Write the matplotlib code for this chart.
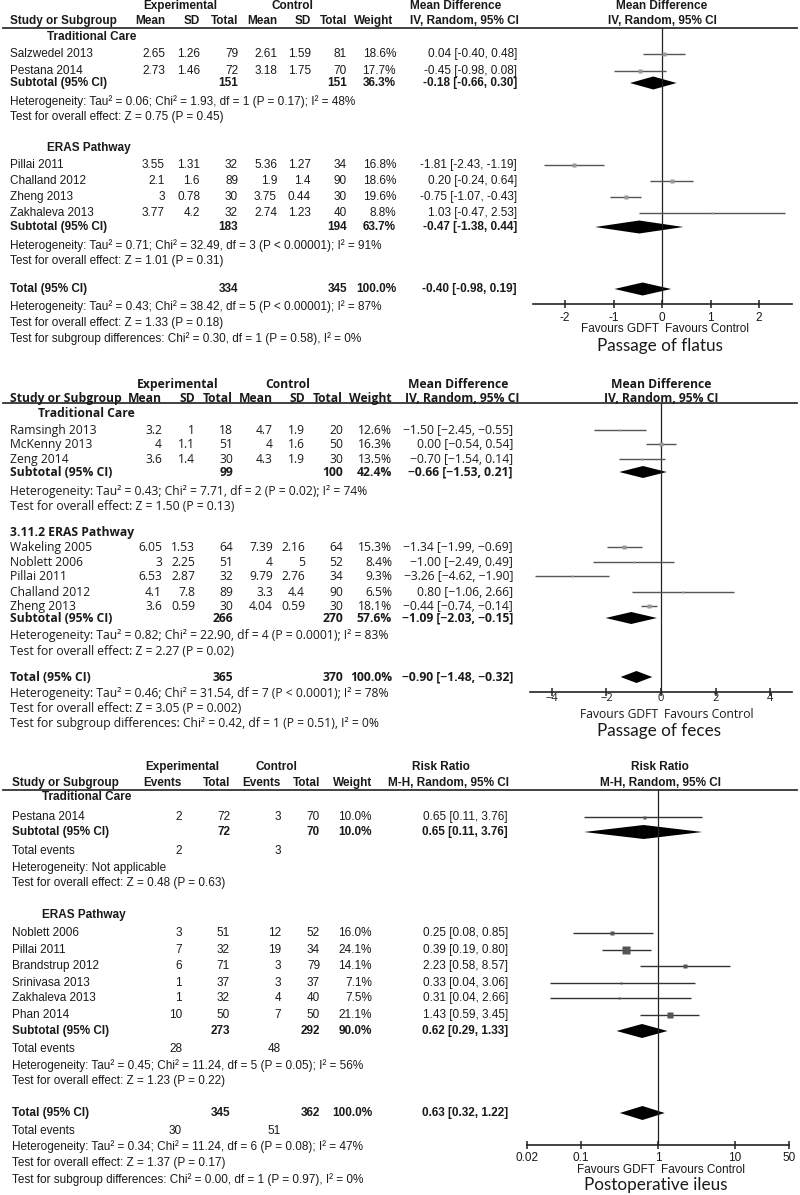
import matplotlib
matplotlib.use("Agg")
import matplotlib.pyplot as plt
from matplotlib.ticker import FixedLocator, FixedFormatter, NullLocator

# ---------------- DATA ----------------
# Panel 1: Passage of flatus (mean difference)
fl_tc_study = ["Salzwedel 2013", "Pestana 2014"]
fl_tc_e_mean = [2.65, 2.73]
fl_tc_e_sd = [1.26, 1.46]
fl_tc_e_n = [79, 72]
fl_tc_c_mean = [2.61, 3.18]
fl_tc_c_sd = [1.59, 1.75]
fl_tc_c_n = [81, 70]
fl_tc_w = [18.6, 17.7]
fl_tc_md = [0.04, -0.45]
fl_tc_lo = [-0.40, -0.98]
fl_tc_hi = [0.48, 0.08]
fl_tc_sub = dict(en=151, cn=151, w=36.3, md=-0.18, lo=-0.66, hi=0.30)
fl_tc_het = "Heterogeneity: Tau² = 0.06; Chi² = 1.93, df = 1 (P = 0.17); I² = 48%"
fl_tc_test = "Test for overall effect: Z = 0.75 (P = 0.45)"

fl_er_study = ["Pillai 2011", "Challand 2012", "Zheng 2013", "Zakhaleva 2013"]
fl_er_e_mean = [3.55, 2.1, 3, 3.77]
fl_er_e_sd = [1.31, 1.6, 0.78, 4.2]
fl_er_e_n = [32, 89, 30, 32]
fl_er_c_mean = [5.36, 1.9, 3.75, 2.74]
fl_er_c_sd = [1.27, 1.4, 0.44, 1.23]
fl_er_c_n = [34, 90, 30, 40]
fl_er_w = [16.8, 18.6, 19.6, 8.8]
fl_er_md = [-1.81, 0.20, -0.75, 1.03]
fl_er_lo = [-2.43, -0.24, -1.07, -0.47]
fl_er_hi = [-1.19, 0.64, -0.43, 2.53]
fl_er_sub = dict(en=183, cn=194, w=63.7, md=-0.47, lo=-1.38, hi=0.44)
fl_er_het = "Heterogeneity: Tau² = 0.71; Chi² = 32.49, df = 3 (P < 0.00001); I² = 91%"
fl_er_test = "Test for overall effect: Z = 1.01 (P = 0.31)"

fl_tot = dict(en=334, cn=345, w=100.0, md=-0.40, lo=-0.98, hi=0.19)
fl_tot_notes = ["Heterogeneity: Tau² = 0.43; Chi² = 38.42, df = 5 (P < 0.00001); I² = 87%",
                "Test for overall effect: Z = 1.33 (P = 0.18)",
                "Test for subgroup differences: Chi² = 0.30, df = 1 (P = 0.58), I² = 0%"]
fl_ticks = [-2, -1, 0, 1, 2]

# Panel 2: Passage of feces (mean difference)
fe_tc_study = ["Ramsingh 2013", "McKenny 2013", "Zeng 2014"]
fe_tc_e_mean = [3.2, 4, 3.6]
fe_tc_e_sd = [1, 1.1, 1.4]
fe_tc_e_n = [18, 51, 30]
fe_tc_c_mean = [4.7, 4, 4.3]
fe_tc_c_sd = [1.9, 1.6, 1.9]
fe_tc_c_n = [20, 50, 30]
fe_tc_w = [12.6, 16.3, 13.5]
fe_tc_md = [-1.50, 0.00, -0.70]
fe_tc_lo = [-2.45, -0.54, -1.54]
fe_tc_hi = [-0.55, 0.54, 0.14]
fe_tc_sub = dict(en=99, cn=100, w=42.4, md=-0.66, lo=-1.53, hi=0.21)
fe_tc_het = "Heterogeneity: Tau² = 0.43; Chi² = 7.71, df = 2 (P = 0.02); I² = 74%"
fe_tc_test = "Test for overall effect: Z = 1.50 (P = 0.13)"

fe_er_study = ["Wakeling 2005", "Noblett 2006", "Pillai 2011", "Challand 2012", "Zheng 2013"]
fe_er_e_mean = [6.05, 3, 6.53, 4.1, 3.6]
fe_er_e_sd = [1.53, 2.25, 2.87, 7.8, 0.59]
fe_er_e_n = [64, 51, 32, 89, 30]
fe_er_c_mean = [7.39, 4, 9.79, 3.3, 4.04]
fe_er_c_sd = [2.16, 5, 2.76, 4.4, 0.59]
fe_er_c_n = [64, 52, 34, 90, 30]
fe_er_w = [15.3, 8.4, 9.3, 6.5, 18.1]
fe_er_md = [-1.34, -1.00, -3.26, 0.80, -0.44]
fe_er_lo = [-1.99, -2.49, -4.62, -1.06, -0.74]
fe_er_hi = [-0.69, 0.49, -1.90, 2.66, -0.14]
fe_er_sub = dict(en=266, cn=270, w=57.6, md=-1.09, lo=-2.03, hi=-0.15)
fe_er_het = "Heterogeneity: Tau² = 0.82; Chi² = 22.90, df = 4 (P = 0.0001); I² = 83%"
fe_er_test = "Test for overall effect: Z = 2.27 (P = 0.02)"

fe_tot = dict(en=365, cn=370, w=100.0, md=-0.90, lo=-1.48, hi=-0.32)
fe_tot_notes = ["Heterogeneity: Tau² = 0.46; Chi² = 31.54, df = 7 (P < 0.0001); I² = 78%",
                "Test for overall effect: Z = 3.05 (P = 0.002)",
                "Test for subgroup differences: Chi² = 0.42, df = 1 (P = 0.51), I² = 0%"]
fe_ticks = [-4, -2, 0, 2, 4]

# Panel 3: Postoperative ileus (risk ratio)
il_tc_study = ["Pestana 2014"]
il_tc_e_ev = [2]
il_tc_e_n = [72]
il_tc_c_ev = [3]
il_tc_c_n = [70]
il_tc_w = [10.0]
il_tc_rr = [0.65]
il_tc_lo = [0.11]
il_tc_hi = [3.76]
il_tc_sub = dict(en=72, cn=70, w=10.0, md=0.65, lo=0.11, hi=3.76, eev=2, cev=3)
il_tc_het = "Heterogeneity: Not applicable"
il_tc_test = "Test for overall effect: Z = 0.48 (P = 0.63)"

il_er_study = ["Noblett 2006", "Pillai 2011", "Brandstrup 2012", "Srinivasa 2013",
               "Zakhaleva 2013", "Phan 2014"]
il_er_e_ev = [3, 7, 6, 1, 1, 10]
il_er_e_n = [51, 32, 71, 37, 32, 50]
il_er_c_ev = [12, 19, 3, 3, 4, 7]
il_er_c_n = [52, 34, 79, 37, 40, 50]
il_er_w = [16.0, 24.1, 14.1, 7.1, 7.5, 21.1]
il_er_rr = [0.25, 0.39, 2.23, 0.33, 0.31, 1.43]
il_er_lo = [0.08, 0.19, 0.58, 0.04, 0.04, 0.59]
il_er_hi = [0.85, 0.80, 8.57, 3.06, 2.66, 3.45]
il_er_sub = dict(en=273, cn=292, w=90.0, md=0.62, lo=0.29, hi=1.33, eev=28, cev=48)
il_er_het = "Heterogeneity: Tau² = 0.45; Chi² = 11.24, df = 5 (P = 0.05); I² = 56%"
il_er_test = "Test for overall effect: Z = 1.23 (P = 0.22)"

il_tot = dict(en=345, cn=362, w=100.0, md=0.63, lo=0.32, hi=1.22, eev=30, cev=51)
il_tot_notes = ["Heterogeneity: Tau² = 0.34; Chi² = 11.24, df = 6 (P = 0.08); I² = 47%",
                "Test for overall effect: Z = 1.37 (P = 0.17)",
                "Test for subgroup differences: Chi² = 0.00, df = 1 (P = 0.97), I² = 0%"]
il_ticks = [0.02, 0.1, 1, 10, 50]
il_ticklabels = ["0.02", "0.1", "1", "10", "50"]

# ---------------- FIGURE ----------------
W, H = 800, 1195
fig = plt.figure(figsize=(W / 100, H / 100), dpi=100)
base = fig.add_axes([0, 0, 1, 1])
base.set_xlim(0, W)
base.set_ylim(H, 0)
base.axis('off')

ARIAL = ['Liberation Sans', 'DejaVu Sans']
LUCIDA = ['Open Sans', 'DejaVu Sans']
TITLEF = ['Lato', 'DejaVu Sans']
TXT = '#1a1a1a'


def T(x, y, s, ha='left', bold=False, fs=8, fam=ARIAL, color=TXT):
    base.text(x, y, s, ha=ha, va='center', fontsize=fs,
              fontweight='bold' if bold else 'normal', family=fam, color=color)


def fmt_g(v):
    return f"{v:g}"


def fmt_ci(md, lo, hi, minus='-'):
    s = f"{md:.2f} [{lo:.2f}, {hi:.2f}]"
    return s.replace('-', minus)


def forest_axes(x0, x1, ytop, ybot, xlim, log=False):
    ax = fig.add_axes([x0 / W, 1 - ybot / H, (x1 - x0) / W, (ybot - ytop) / H])
    if log:
        ax.set_xscale('log')
    ax.set_xlim(*xlim)
    ax.set_ylim(ybot, ytop)
    ax.patch.set_alpha(0)
    for s in ['top', 'left', 'right']:
        ax.spines[s].set_visible(False)
    ax.spines['bottom'].set_linewidth(1.2)
    ax.spines['bottom'].set_color('#222222')
    ax.yaxis.set_major_locator(NullLocator())
    ax.xaxis.set_minor_locator(NullLocator())
    return ax


def draw_panel(cfg):
    c = cfg['cols']
    fam, fs = cfg['fam'], cfg['fs']
    mn = cfg['minus']
    y = cfg['y']
    # headers
    T(c['exp_c'], y['h1'], "Experimental", ha='center', bold=True, fs=fs, fam=fam)
    T(c['ctl_c'], y['h1'], "Control", ha='center', bold=True, fs=fs, fam=fam)
    (nx, nha), (mx, mha) = cfg['eff_hdr_pos']
    T(nx, y['h1'], cfg['eff_name'], ha=nha, bold=True, fs=fs, fam=fam)
    T(c['fp_c'], y['h1'], cfg['eff_name'], ha='center', bold=True, fs=fs, fam=fam)
    T(c['name'], y['h2'], "Study or Subgroup", bold=True, fs=fs, fam=fam)
    for key, lab in cfg['hdr_cols']:
        T(c[key], y['h2'], lab, ha='right', bold=True, fs=fs, fam=fam)
    T(c['w_h'], y['h2'], "Weight", ha='right', bold=True, fs=fs, fam=fam)
    T(mx, y['h2'], cfg['eff_method'], ha=mha, bold=True, fs=fs, fam=fam)
    T(c['fp_c'], y['h2'], cfg['eff_method'], ha='center', bold=True, fs=fs, fam=fam)
    base.plot([3, 797], [y['line'], y['line']], color='#333333', lw=1.3)

    ax = forest_axes(c['ax0'], c['ax1'], y['line'], y['axis'], cfg['xlim'], cfg['log'])
    ax.axvline(cfg['null'], color='#222222', lw=0.9)

    for g in cfg['groups']:
        T(g['lab_x'], g['lab_y'], g['label'], bold=True, fs=fs, fam=fam)
        for i, ry in enumerate(g['rows']):
            T(c['name'], ry, g['study'][i], fs=fs, fam=fam)
            for key, arr in g['cols']:
                T(c[key], ry, fmt_g(arr[i]), ha='right', fs=fs, fam=fam)
            T(c['w'], ry, f"{g['w'][i]:.1f}%", ha='right', fs=fs, fam=fam)
            T(c['ci'], ry, fmt_ci(g['md'][i], g['lo'][i], g['hi'][i], mn), ha='right', fs=fs, fam=fam)
            ax.plot([g['lo'][i], g['hi'][i]], [ry, ry], color=cfg['line_col'], lw=1.0,
                    solid_capstyle='butt')
            side = max(2.5, g['w'][i] * cfg['sq_scale'])
            ax.plot([g['md'][i]], [ry], marker='s', ms=side * 0.72, color=cfg['sq_col'],
                    mec='none', ls='none')
        s = g['sub']
        sy = g['sub_y']
        T(c['name'], sy, "Subtotal (95% CI)", bold=True, fs=fs, fam=fam)
        T(c['ne'], sy, str(s['en']), ha='right', bold=True, fs=fs, fam=fam)
        T(c['nc'], sy, str(s['cn']), ha='right', bold=True, fs=fs, fam=fam)
        T(c['w'], sy, f"{s['w']:.1f}%", ha='right', bold=True, fs=fs, fam=fam)
        T(c['ci'], sy, fmt_ci(s['md'], s['lo'], s['hi'], mn), ha='right', bold=True, fs=fs, fam=fam)
        dh = cfg['dia_h']
        ax.fill([s['lo'], s['md'], s['hi'], s['md']], [sy, sy - dh, sy, sy + dh],
                color='black', lw=0)
        if 'ev_y' in g:
            T(c['name'], g['ev_y'], "Total events", fs=fs, fam=fam)
            T(c['ee'], g['ev_y'], str(s['eev']), ha='right', fs=fs, fam=fam)
            T(c['ce'], g['ev_y'], str(s['cev']), ha='right', fs=fs, fam=fam)
        T(c['name'], g['het_y'], g['het'], fs=fs, fam=fam)
        T(c['name'], g['test_y'], g['test'], fs=fs, fam=fam)

    tt = cfg['tot']
    ty = y['tot']
    T(c['name'], ty, "Total (95% CI)", bold=True, fs=fs, fam=fam)
    T(c['ne'], ty, str(tt['en']), ha='right', bold=True, fs=fs, fam=fam)
    T(c['nc'], ty, str(tt['cn']), ha='right', bold=True, fs=fs, fam=fam)
    T(c['w'], ty, f"{tt['w']:.1f}%", ha='right', bold=True, fs=fs, fam=fam)
    T(c['ci'], ty, fmt_ci(tt['md'], tt['lo'], tt['hi'], mn), ha='right', bold=True, fs=fs, fam=fam)
    dh = cfg['dia_h']
    ax.fill([tt['lo'], tt['md'], tt['hi'], tt['md']], [ty, ty - dh, ty, ty + dh],
            color='black', lw=0)
    if 'tot_ev' in y:
        T(c['name'], y['tot_ev'], "Total events", fs=fs, fam=fam)
        T(c['ee'], y['tot_ev'], str(tt['eev']), ha='right', fs=fs, fam=fam)
        T(c['ce'], y['tot_ev'], str(tt['cev']), ha='right', fs=fs, fam=fam)
    for note, ny in zip(cfg['tot_notes'], y['notes']):
        T(c['name'], ny, note, fs=fs, fam=fam)

    ax.xaxis.set_major_locator(FixedLocator(cfg['ticks']))
    ax.xaxis.set_major_formatter(FixedFormatter(cfg['ticklabels']))
    ax.tick_params(axis='x', direction='inout', length=6, width=1.1, color='#222222',
                   labelsize=cfg['tick_fs'], pad=cfg['tick_pad'], labelcolor=TXT)
    for lab in ax.get_xticklabels():
        lab.set_family(fam)
    zx = c['zero_px']
    T(zx - 3, y['fav'], "Favours GDFT", ha='right', fs=fs, fam=fam)
    T(zx + 3, y['fav'], "Favours Control", ha='left', fs=fs, fam=fam)
    T(zx - 2, y['title'], cfg['title'], ha='center', fs=cfg['title_fs'], fam=TITLEF)


# ---- panel 1 ----
cfg1 = dict(
    fam=ARIAL, fs=8.5, minus='-', log=False, null=0, xlim=(-2.66, 2.68),
    eff_name="Mean Difference", eff_method="IV, Random, 95% CI",
    eff_hdr_pos=[(410, 'left'), (410, 'left')],
    cols=dict(name=10, me=165, sde=200, ne=238, mc=277, sdc=311, nc=347, w=396, w_h=393,
              ci=517, exp_c=180, ctl_c=292, fp_c=662, ax0=533, ax1=792, zero_px=662),
    hdr_cols=[('me', 'Mean'), ('sde', 'SD'), ('ne', 'Total'), ('mc', 'Mean'), ('sdc', 'SD'), ('nc', 'Total')],
    y=dict(h1=6, h2=21, line=28, axis=304, tot=289, notes=[307, 323, 339], fav=329, title=346),
    groups=[
        dict(label="Traditional Care", lab_x=47, lab_y=37, rows=[54, 71], sub_y=83, het_y=102, test_y=117,
             study=fl_tc_study, w=fl_tc_w, md=fl_tc_md, lo=fl_tc_lo, hi=fl_tc_hi, sub=fl_tc_sub,
             het=fl_tc_het, test=fl_tc_test,
             cols=[('me', fl_tc_e_mean), ('sde', fl_tc_e_sd), ('ne', fl_tc_e_n),
                   ('mc', fl_tc_c_mean), ('sdc', fl_tc_c_sd), ('nc', fl_tc_c_n)]),
        dict(label="ERAS Pathway", lab_x=47, lab_y=148, rows=[165, 181, 197, 213], sub_y=227, het_y=246,
             test_y=261, study=fl_er_study, w=fl_er_w, md=fl_er_md, lo=fl_er_lo, hi=fl_er_hi, sub=fl_er_sub,
             het=fl_er_het, test=fl_er_test,
             cols=[('me', fl_er_e_mean), ('sde', fl_er_e_sd), ('ne', fl_er_e_n),
                   ('mc', fl_er_c_mean), ('sdc', fl_er_c_sd), ('nc', fl_er_c_n)]),
    ],
    tot=fl_tot, tot_notes=fl_tot_notes, ticks=fl_ticks, ticklabels=[str(t) for t in fl_ticks],
    tick_fs=8.5, tick_pad=2.5, title="Passage of flatus", title_fs=12.3,
    line_col='#555555', sq_col='#999999', sq_scale=0.22, dia_h=6.5,
)
draw_panel(cfg1)

# ---- panel 2 ----
cfg2 = dict(
    fam=LUCIDA, fs=8.7, minus='\u2212', log=False, null=0, xlim=(-4.8, 4.8),
    eff_name="Mean Difference", eff_method="IV, Random, 95% CI",
    eff_hdr_pos=[(408, 'left'), (405, 'left')],
    cols=dict(name=10, me=162, sde=195, ne=233, mc=273, sdc=305, nc=343, w=392, w_h=392,
              ci=513, exp_c=178, ctl_c=288, fp_c=661, ax0=530, ax1=792, zero_px=661),
    hdr_cols=[('me', 'Mean'), ('sde', 'SD'), ('ne', 'Total'), ('mc', 'Mean'), ('sdc', 'SD'), ('nc', 'Total')],
    y=dict(h1=384, h2=398, line=403, axis=692, tot=677, notes=[693, 708, 723], fav=714, title=731),
    groups=[
        dict(label="Traditional Care", lab_x=38, lab_y=413, rows=[430, 444, 459], sub_y=472, het_y=491,
             test_y=506, study=fe_tc_study, w=fe_tc_w, md=fe_tc_md, lo=fe_tc_lo, hi=fe_tc_hi, sub=fe_tc_sub,
             het=fe_tc_het, test=fe_tc_test,
             cols=[('me', fe_tc_e_mean), ('sde', fe_tc_e_sd), ('ne', fe_tc_e_n),
                   ('mc', fe_tc_c_mean), ('sdc', fe_tc_c_sd), ('nc', fe_tc_c_n)]),
        dict(label="3.11.2 ERAS Pathway", lab_x=10, lab_y=532, rows=[547, 562, 576, 592, 606], sub_y=618,
             het_y=635, test_y=651, study=fe_er_study, w=fe_er_w, md=fe_er_md, lo=fe_er_lo, hi=fe_er_hi,
             sub=fe_er_sub, het=fe_er_het, test=fe_er_test,
             cols=[('me', fe_er_e_mean), ('sde', fe_er_e_sd), ('ne', fe_er_e_n),
                   ('mc', fe_er_c_mean), ('sdc', fe_er_c_sd), ('nc', fe_er_c_n)]),
    ],
    tot=fe_tot, tot_notes=fe_tot_notes, ticks=fe_ticks,
    ticklabels=[str(t).replace('-', '\u2212') for t in fe_ticks],
    tick_fs=8.0, tick_pad=-2.5, title="Passage of feces", title_fs=12.3,
    line_col='#555555', sq_col='#999999', sq_scale=0.22, dia_h=6,
)
draw_panel(cfg2)

# ---- panel 3 ----
cfg3 = dict(
    fam=ARIAL, fs=8.5, minus='-', log=True, null=1, xlim=(0.02, 50),
    eff_name="Risk Ratio", eff_method="M-H, Random, 95% CI",
    eff_hdr_pos=[(441, 'center'), (449, 'center')],
    cols=dict(name=12, ee=182, ne=230, ce=281, nc=320, w=372, w_h=372,
              ci=508, exp_c=182, ctl_c=276, fp_c=660, ax0=527, ax1=789, zero_px=658),
    hdr_cols=[('ee', 'Events'), ('ne', 'Total'), ('ce', 'Events'), ('nc', 'Total')],
    y=dict(h1=767, h2=783, line=790, axis=1145, tot=1113, tot_ev=1131, notes=[1147, 1163, 1180],
           fav=1170, title=1185),
    groups=[
        dict(label="Traditional Care", lab_x=42, lab_y=797, rows=[817], sub_y=832, ev_y=851, het_y=868,
             test_y=883, study=il_tc_study, w=il_tc_w, md=il_tc_rr, lo=il_tc_lo, hi=il_tc_hi, sub=il_tc_sub,
             het=il_tc_het, test=il_tc_test,
             cols=[('ee', il_tc_e_ev), ('ne', il_tc_e_n), ('ce', il_tc_c_ev), ('nc', il_tc_c_n)]),
        dict(label="ERAS Pathway", lab_x=42, lab_y=915, rows=[933, 950, 966, 983, 998, 1015], sub_y=1031,
             ev_y=1049, het_y=1066, test_y=1081, study=il_er_study, w=il_er_w, md=il_er_rr, lo=il_er_lo,
             hi=il_er_hi, sub=il_er_sub, het=il_er_het, test=il_er_test,
             cols=[('ee', il_er_e_ev), ('ne', il_er_e_n), ('ce', il_er_c_ev), ('nc', il_er_c_n)]),
    ],
    tot=il_tot, tot_notes=il_tot_notes, ticks=il_ticks, ticklabels=il_ticklabels,
    tick_fs=8.5, tick_pad=2.0, title="Postoperative ileus", title_fs=12.3,
    line_col='#333333', sq_col='#555555', sq_scale=0.3, dia_h=7,
)
draw_panel(cfg3)

fig.savefig("out.png", dpi=100)
